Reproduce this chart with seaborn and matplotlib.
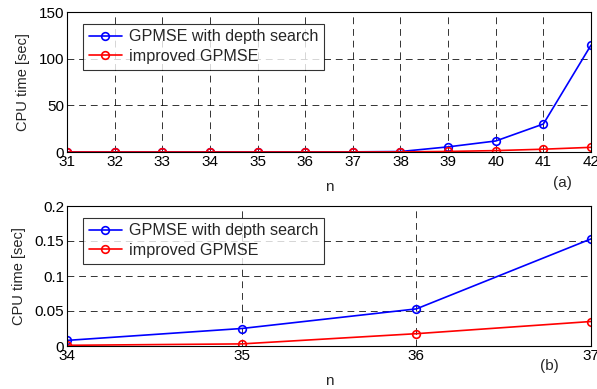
import pandas as pd
import seaborn as sns
import matplotlib.pyplot as plt

# values
n_a = [31, 32, 33, 34, 35, 36, 37, 38, 39, 40, 41, 42]
depth_a = [0.002, 0.003, 0.005, 0.008, 0.025, 0.053, 0.153, 0.5, 5.5, 11.8, 30, 114.5]
improved_a = [0.001, 0.001, 0.001, 0.001, 0.003, 0.018, 0.035, 0.1, 0.6, 1.5, 3, 5]

n_b = [34, 35, 36, 37]
depth_b = [0.008, 0.025, 0.053, 0.153]
improved_b = [0.001, 0.003, 0.0176, 0.035]

labels = ['GPMSE with depth search', 'improved GPMSE']
colors = ['#0000ff', '#ff0000']

sns.set_style('white')
plt.rcParams['font.family'] = ['Liberation Sans', 'DejaVu Sans']
plt.rcParams['xtick.direction'] = 'in'
plt.rcParams['ytick.direction'] = 'in'

fig = plt.figure(figsize=(5.97, 3.89), dpi=100)
ax1 = fig.add_axes([67 / 597, 1 - 152 / 389, 524 / 597, 140 / 389])
ax2 = fig.add_axes([67 / 597, 1 - 346 / 389, 524 / 597, 140 / 389])


def draw(ax, n, s1, s2, ylim, yticks, yticklabels, tag, tagpos):
    df = pd.DataFrame({'n': n * 2, 'time': s1 + s2,
                       'method': [labels[0]] * len(n) + [labels[1]] * len(n)})
    sns.lineplot(data=df, x='n', y='time', hue='method', palette=colors,
                 marker='o', markersize=5.5, markerfacecolor='none',
                 markeredgewidth=1.2, linewidth=1.2, ax=ax)
    for line, c in zip(ax.get_lines(), colors):
        line.set_markeredgecolor(c)
    ax.set_xlim(n[0], n[-1])
    ax.set_ylim(*ylim)
    ax.set_xticks(n)
    ax.set_yticks(yticks)
    ax.set_yticklabels(yticklabels)
    ax.tick_params(labelsize=11, length=4, width=0.8, colors='black', pad=2)
    ax.grid(True, color='black', linestyle=(0, (7, 5)), linewidth=0.7, alpha=0.8)
    for sp in ax.spines.values():
        sp.set_color('black')
        sp.set_linewidth(0.8)
    ax.set_xlabel('n', fontsize=11, labelpad=8)
    ax.set_ylabel('CPU time [sec]', fontsize=10.5, labelpad=6)
    leg = ax.legend(loc='upper left', bbox_to_anchor=(0.015, 0.975), fontsize=11.6,
                    frameon=True, fancybox=False, edgecolor='black',
                    handlelength=2.1, handletextpad=0.4, borderpad=0.35,
                    labelspacing=0.3)
    leg.get_frame().set_linewidth(0.8)
    for h, c in zip(leg.get_lines(), colors):
        h.set_markeredgecolor(c)
    ax.text(tagpos[0], tagpos[1], tag, transform=ax.transAxes, fontsize=11,
            ha='center', va='center')


draw(ax1, n_a, depth_a, improved_a, (0, 150), [0, 50, 100, 150],
     ['0', '50', '100', '150'], '(a)', (0.945, -0.22))
draw(ax2, n_b, depth_b, improved_b, (0, 0.2), [0, 0.05, 0.1, 0.15, 0.2],
     ['0', '0.05', '0.1', '0.15', '0.2'], '(b)', (0.92, -0.14))

fig.savefig('out.png', dpi=100)
